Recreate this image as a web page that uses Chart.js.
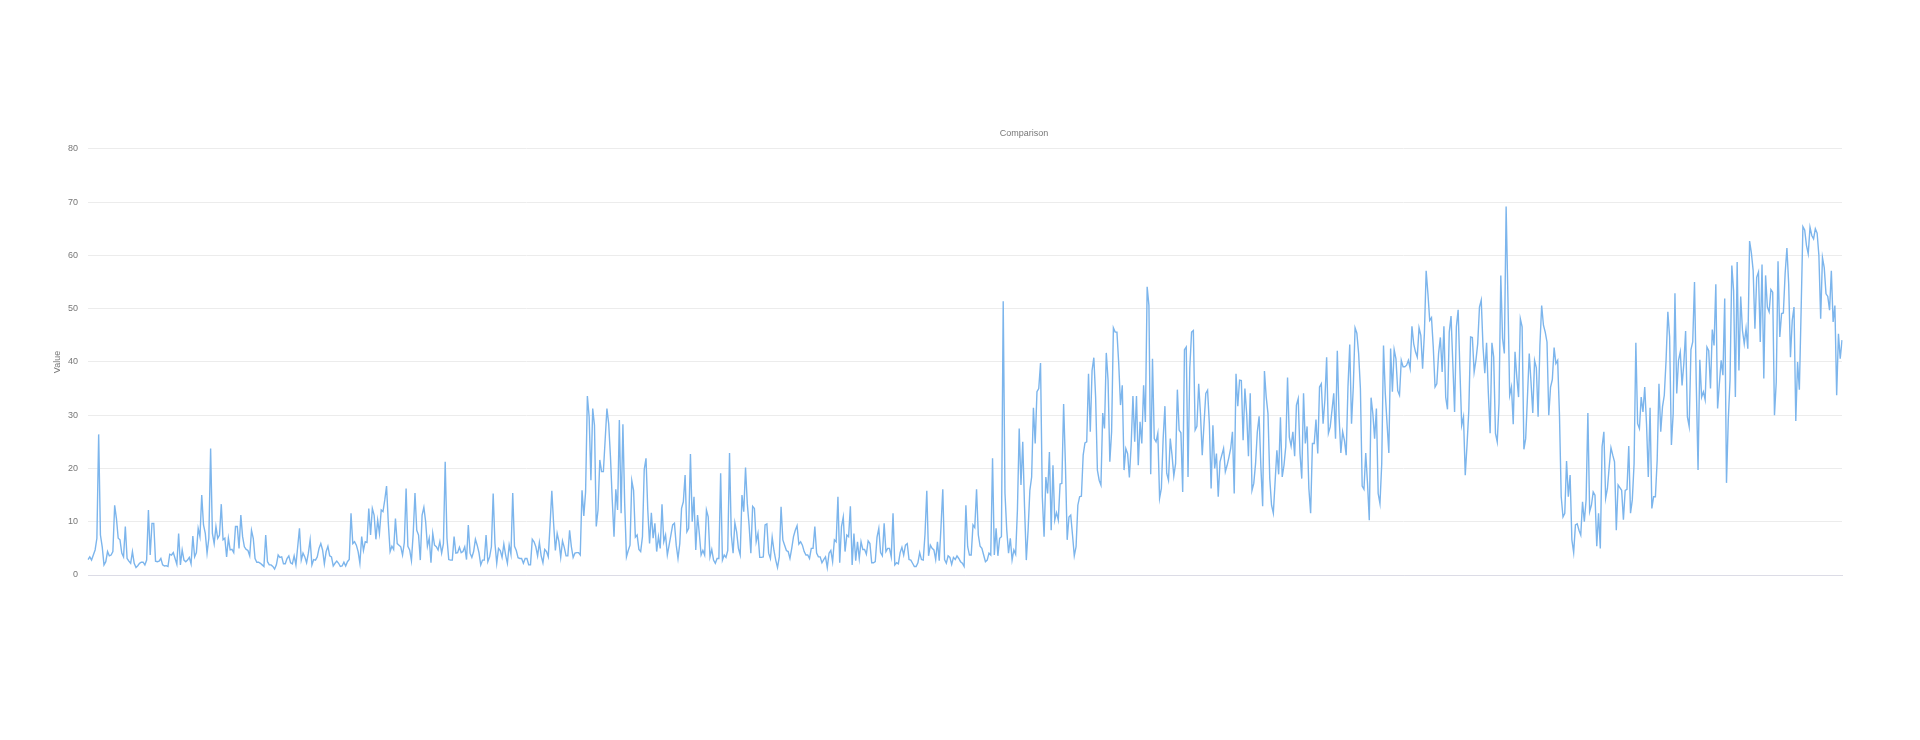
<!DOCTYPE html>
<html>
<head>
<meta charset="utf-8">
<script src="https://cdn.jsdelivr.net/npm/chart.js@4.4.0/dist/chart.umd.min.js"></script>
<style>
  html, body { margin: 0; padding: 0; background: #fff; overflow: hidden; }
  #wrap { width: 1920px; height: 740px; }
</style>
</head>
<body>
<div id="wrap"><canvas id="plot"></canvas></div>
<script>
// values, left to right
const part1 = [2.9,3.4,2.8,3.75,4.7,6.9,26.4,7.5,5.3,1.9,2.5,4.4,3.6,3.75,4.4,13.1,10.6,6.9,6.6,4.1,3.4,9.1,3.1,2.6,2.2,4.4,2.2,1.4,1.75,2.2,2.4,2.4,1.9,2.8,12.2,3.75,9.7,9.7,2.6,2.5,2.6,3.1,1.9,1.7,1.75,1.6,3.9,3.75,4.2,3.1,2.0,7.8,1.9,4.7,2.8,2.5,2.8,3.3,2.1,7.3,3.4,4.2,8.75,7.2,15.0,9.4,7.8,4.1,6.9,23.75,7.8,5.9,9.1,6.9,7.5,13.3,6.6,6.9,3.4,6.9,4.7,4.8,4.2,9.1,9.1,5.0,11.25,7.2,5.3,4.8,4.6,3.6,8.4,6.9,3.1,2.4,2.4,2.2,1.9,1.6,7.5,2.5,1.9,1.9,1.6,1.1,1.9,3.75,3.3,3.4,2.1,2.1,3.1,3.6,2.3,2.1,3.6,1.9,5.3,8.75,2.8,4.1,3.4,2.3,4.1,6.6,1.9,2.9,2.8,3.4,5.0,5.9,4.7,2.1,4.4,5.4,3.6,3.4,1.7,2.2,2.6,2.2,1.6,1.7,2.4,1.7,2.5,2.9,11.6,5.9,6.25,5.6,4.4,2.2,7.2,4.6,6.25,6.1,12.5,7.5,12.5,11.25,6.7,10.3];
const part2 = [7.8,12.2,11.9,14.1,16.7,9.7,4.4,5.4,4.8,10.6,5.9,5.6,5.3,3.75,6.1,16.25,5.4,4.7,2.7,7.8,15.4,8.4,7.5,2.8,11.25,12.7,10.0,5.4,6.9,2.3,7.8,5.6,5.3,4.7,6.25,4.1,5.9,21.25,6.9,2.9,2.8,2.8,7.2,4.1,4.2,5.2,4.2,4.4,5.3,2.9,9.4,4.1,3.3,4.4,6.7,5.6,4.2,1.9,2.8,2.8,7.5,2.5,3.4,5.3,15.3,5.9,2.2,5.0,4.6,3.3,5.8,3.75,2.2,5.6,3.9,15.4,5.4,4.6,3.25,3.1,3.1,2.2,3.1,3.1,1.9,1.9,6.7,6.25,5.3,3.6,6.1,3.6,2.3,4.8,4.4,3.4,9.4,15.8,9.7,4.6,7.8,6.25,3.3,6.4,5.2,3.6,3.6,8.4,5.3,3.3,4.1,4.2,4.2,3.75,15.9,11.1,15.6,33.6,29.7,17.8,31.25,28.1,9.1,12.2,21.6,19.4,19.4,25.3,31.25,28.4,22.2,14.1,7.2,16.1,12.2,29.1,11.6,28.3,13.4,3.4,4.6,5.6,17.7,15.9,7.1,7.5,4.8,4.4,7.2,19.8,21.9,12.2,5.9,11.7,6.9,9.7,4.4,7.2,5.0,13.3,6.25,7.5,3.75];
const part3 = [5.6,7.5,9.4,9.7,5.6,3.1,5.9,12.5,13.75,18.75,8.1,8.75,22.7,10.0,14.7,4.7,11.25,7.8,3.75,4.6,3.75,12.2,10.9,3.4,4.8,2.8,2.2,3.1,3.1,19.1,2.8,3.75,3.3,4.6,22.9,7.5,4.1,9.8,8.1,5.0,3.75,15.0,11.9,20.2,13.4,9.4,4.1,12.9,12.5,6.25,7.8,3.3,3.3,3.4,9.4,9.6,4.1,3.1,7.1,4.6,2.8,1.4,3.4,12.8,6.6,5.6,4.6,4.4,3.1,5.0,7.2,8.4,9.25,5.8,6.25,5.6,4.4,3.75,3.75,3.1,5.0,5.0,9.1,4.1,3.4,3.4,2.3,2.9,3.4,1.4,4.1,4.6,2.5,6.6,6.25,14.7,2.3,9.1,10.9,4.4,7.5,7.2,12.9,1.9,7.8,2.7,6.25,3.1,6.25,4.8,4.8,3.9,6.4,5.9,2.3,2.3,2.5,7.1,8.75,4.2,3.6,9.7,4.4,5.0,5.0,3.4,11.6,1.9,2.3,2.1,4.2,5.2,3.75,5.6,5.9,2.9,2.8,2.2,1.6,1.6,2.3,4.2,2.9,2.8,7.7,15.8,3.6,5.6,5.0,4.7,2.9,6.25,2.7,9.1,16.1,2.9,2.2,3.6,3.3,2.0,3.3,2.9,3.6];
const part4 = [3.1,2.5,2.2,1.6,13.1,5.3,3.75,3.75,9.4,8.9,16.1,7.5,5.4,5.0,3.75,2.5,2.8,4.1,3.75,21.9,3.75,8.75,3.6,6.9,7.2,51.4,15.3,8.4,4.1,6.9,2.8,4.7,3.9,12.2,27.5,16.9,25.0,12.8,2.8,8.4,15.9,18.4,31.4,24.7,34.4,35.0,39.8,14.7,7.2,18.4,15.3,23.1,8.4,20.6,10.3,11.7,10.3,17.1,17.2,32.1,20.9,6.6,10.9,11.25,7.5,3.6,5.3,13.1,14.7,14.8,22.5,24.8,25.0,37.8,26.9,38.4,40.8,33.4,19.7,17.8,16.9,30.4,27.5,41.7,36.6,21.25,26.9,46.4,45.6,45.6,39.7,31.9,35.6,19.7,23.75,22.8,18.3,24.4,33.6,25.0,33.6,20.6,28.75,24.7,35.6,28.75,54.1,50.6,18.9,40.6,25.6,25.0,26.6,14.4,16.25,25.6,31.7,19.1,17.8,25.6,22.5,18.6,20.9,34.8,27.2,26.7,15.6,42.3,42.8,18.4,38.9,45.6,45.9,27.2,27.9,35.9,30.3,22.5,28.4,34.1,34.7,28.4,16.25,28.1,20.0,22.8,14.7,21.25,22.5,23.75,19.4,20.6,22.1,23.75,26.9,15.3,37.8,31.7,36.6,36.5,25.3,35.0,30.3,22.3,34.1];
const part5 = [15.9,17.2,20.9,26.9,29.8,20.3,12.9,38.3,33.4,30.3,18.1,13.1,11.6,17.5,23.4,18.9,29.6,18.4,20.6,24.1,37.1,25.9,24.2,26.9,22.3,31.9,33.1,22.8,18.1,34.1,24.7,27.9,16.25,11.6,24.7,24.7,29.2,22.8,35.3,35.9,28.4,32.8,40.9,26.6,27.8,30.9,34.1,25.6,42.1,29.7,22.9,26.9,25.3,22.5,35.3,43.25,28.4,35.3,46.4,45.4,41.6,35.0,16.7,16.1,22.9,17.2,10.3,33.3,30.3,25.6,31.25,15.3,13.4,20.9,43.1,34.1,28.4,22.9,42.5,34.4,42.3,40.6,34.6,33.75,40.3,39.1,39.1,39.4,40.3,38.75,46.7,43.4,41.9,40.9,46.4,45.0,38.75,45.3,57.1,52.8,47.8,48.3,42.8,35.3,35.9,41.6,44.6,38.1,46.7,33.4,31.1,45.6,48.6,39.7,30.6,46.6,49.8,38.4,28.1,29.7,18.75,24.4,30.9,44.7,44.6,38.1,40.3,43.4,50.3,51.6,42.8,37.9,43.6,34.1,26.6,43.6,40.9,26.6,25.0,32.2,56.25,44.4,41.6,69.2,52.2,33.75,35.3,28.3,41.9,37.2,33.4,48.1,46.6,23.6,25.6,33.4,41.6,36.25,30.4,40.3,38.9,29.7,43.1];
const part6 = [50.6,46.9,45.6,43.75,30.0,35.3,36.7,42.7,39.7,40.3,30.3,14.7,10.9,11.6,21.4,14.7,18.75,6.6,4.2,9.4,9.6,8.4,7.5,13.75,10.0,14.1,30.4,11.9,13.1,15.6,15.0,5.4,11.6,5.0,24.1,26.9,14.4,16.25,20.3,23.9,22.5,21.25,8.4,16.9,16.4,15.9,10.4,15.9,16.1,24.2,11.6,14.1,20.9,43.6,28.4,27.5,33.4,30.6,35.3,28.4,18.4,31.4,12.5,14.7,14.7,21.6,35.9,26.9,31.6,33.75,40.3,49.4,44.7,24.4,30.3,52.9,34.1,40.3,41.9,35.6,39.7,45.8,29.7,27.9,42.3,43.75,55.0,35.9,19.7,40.4,33.4,34.4,32.9,42.8,42.1,35.0,46.1,43.1,54.6,31.25,35.9,40.3,37.5,51.9,17.3,29.1,36.6,58.1,53.4,33.4,58.75,38.4,52.3,45.9,43.4,46.25,42.5,62.7,60.5,57.2,46.25,55.9,56.9,43.75,58.3,36.9,56.25,50.3,49.4,53.6,53.1,30.0,36.25,58.9,44.7,49.1,49.2,56.6,61.4,54.7,40.9,47.8,50.3,28.9,40.0,34.8,49.7,65.4,64.8,61.9,60.3,65.3,63.75,63.1,65.0,64.2,60.0,48.1,59.6,57.7,52.8,52.3,49.7,57.1,47.5,50.6,33.75,45.3,40.6,44.1];

const values = part1.concat(part2, part3, part4, part5, part6);
const categories = values.map((v, i) => String(i + 1));
const yTicks = [0, 10, 20, 30, 40, 50, 60, 70, 80];

// the title in the reference sits right of the plot centre
const shiftTitle = {
    id: "shiftTitle",
    afterLayout(chart) {
        if (chart.titleBlock) chart.titleBlock.left = 206;
    }
};

new Chart(document.getElementById("plot"), {
    type: "line",
    data: {
        labels: categories,
        datasets: [
            {
                label: "Value",
                data: values,
                borderColor: "#7cb5ec",
                borderWidth: 1.4,
                pointRadius: 0,
                pointHoverRadius: 0,
                tension: 0,
                fill: false
            }
        ]
    },
    options: {
        responsive: true,
        maintainAspectRatio: false,
        animation: false,
        layout: {
            padding: { left: 52, right: 78, top: 128.5, bottom: 165 }
        },
        plugins: {
            legend: { display: false },
            tooltip: { enabled: false },
            title: {
                display: true,
                text: "Comparison",
                color: "#777",
                font: { size: 9, weight: "normal" },
                padding: { top: 0, bottom: 9.6 }
            }
        },
        scales: {
            x: {
                ticks: { display: false },
                grid: { display: false },
                border: { display: true, color: "#dcdce6" },
                afterFit(scale) { scale.height = 0; }
            },
            y: {
                min: 0,
                max: 80,
                afterBuildTicks(scale) { scale.ticks = yTicks.map(v => ({ value: v })); },
                ticks: { color: "#777", font: { size: 9 }, padding: 10 },
                grid: { color: "#ececec", drawTicks: false },
                border: { display: false },
                title: { display: true, text: "Value", color: "#777", font: { size: 9 }, padding: 0 },
                afterFit(scale) { scale.width = 36; }
            }
        }
    },
    plugins: [shiftTitle]
});
</script>
</body>
</html>
